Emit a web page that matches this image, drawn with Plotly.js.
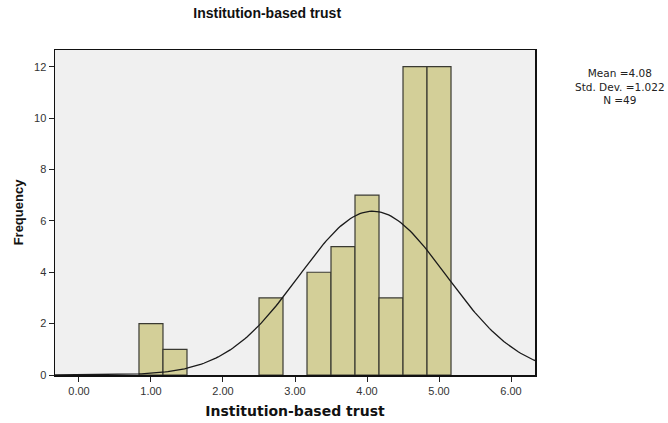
<!DOCTYPE html>
<html>
<head>
<meta charset="utf-8">
<script src="https://cdn.plot.ly/plotly-3.0.1.min.js"></script>
<style>html,body{margin:0;padding:0;background:#fff;}#chart{width:668px;height:423px;}</style>
</head>
<body>
<div id="chart"></div>
<script>
// Histogram bins (lower edge) and frequencies
const binStarts = [0.8333, 1.1667, 2.5, 3.1667, 3.5, 3.8333, 4.1667, 4.5, 4.8333];
const frequencies = [2, 1, 3, 4, 5, 7, 3, 12, 12];
const binWidth = 1 / 3;

// Summary statistics shown on the chart
const statMean = 4.08;
const statSD = 1.022;
const statN = 49;
const statLines = ['Mean =' + statMean.toFixed(2), 'Std. Dev. =' + statSD.toFixed(3), 'N =' + statN];

const xTickVals = [0, 1, 2, 3, 4, 5, 6];
const xTickText = ["0.00", "1.00", "2.00", "3.00", "4.00", "5.00", "6.00"];
const yTickVals = [0, 2, 4, 6, 8, 10, 12];

const xRange = [-0.333, 6.333];
const yRange = [0, 12.65];

const binCenters = binStarts.map(s => s + binWidth / 2);

// Fitted normal curve defined by the displayed mean, SD and N
const curveX = [];
const curveY = [];
for (let i = 0; i <= 200; i++) {
  const x = xRange[0] + (xRange[1] - xRange[0]) * i / 200;
  const z = (x - statMean) / statSD;
  curveX.push(x);
  curveY.push(statN * binWidth / (statSD * Math.sqrt(2 * Math.PI)) * Math.exp(-0.5 * z * z));
}

const traces = [
  {
    type: 'bar',
    x: binCenters,
    y: frequencies,
    width: binWidth,
    marker: {color: '#d3cf98', line: {color: '#3a3a32', width: 1.2}},
    hoverinfo: 'x+y'
  },
  {
    type: 'scatter',
    mode: 'lines',
    x: curveX,
    y: curveY,
    line: {color: '#1a1a1a', width: 1.3},
    hoverinfo: 'skip'
  }
];

const layout = {
  width: 668,
  height: 423,
  margin: {l: 55, r: 133, t: 50, b: 48},
  paper_bgcolor: '#ffffff',
  plot_bgcolor: '#f0f0f0',
  showlegend: false,
  bargap: 0,
  font: {family: 'Liberation Sans, Arial, sans-serif', color: '#222'},
  title: {
    text: '<b>Institution-based trust</b>',
    font: {family: 'Liberation Sans, Arial, sans-serif', size: 14, color: '#111'},
    x: 0.40, xref: 'container', xanchor: 'center',
    y: 0.968, yref: 'container', yanchor: 'middle'
  },
  xaxis: {
    range: xRange,
    tickvals: xTickVals,
    ticktext: xTickText,
    ticks: 'outside',
    ticklen: 5,
    tickcolor: '#222',
    tickfont: {size: 11, color: '#333'},
    showgrid: false,
    zeroline: false,
    showline: true,
    linecolor: '#111',
    linewidth: 1.5,
    mirror: true,
    title: {
      text: '<b>Institution-based trust</b>',
      font: {family: 'DejaVu Sans, Verdana, sans-serif', size: 14, color: '#111'},
      standoff: 10
    }
  },
  yaxis: {
    range: yRange,
    tickvals: yTickVals,
    ticks: 'outside',
    ticklen: 5,
    tickcolor: '#222',
    tickfont: {size: 11, color: '#333'},
    showgrid: false,
    zeroline: false,
    showline: true,
    linecolor: '#111',
    linewidth: 1.5,
    mirror: true,
    title: {
      text: '<b>Frequency</b>',
      font: {family: 'Liberation Sans, Arial, sans-serif', size: 13, color: '#111'},
      standoff: 7
    }
  },
  annotations: [{
    xref: 'paper', yref: 'paper',
    x: 1.177, y: 0.888,
    xanchor: 'center', yanchor: 'middle',
    showarrow: false,
    align: 'center',
    text: statLines.join('<br>'),
    font: {family: 'DejaVu Sans, Verdana, sans-serif', size: 10.5, color: '#222'}
  }]
};

Plotly.newPlot('chart', traces, layout, {displayModeBar: false, staticPlot: true});
</script>
</body>
</html>
